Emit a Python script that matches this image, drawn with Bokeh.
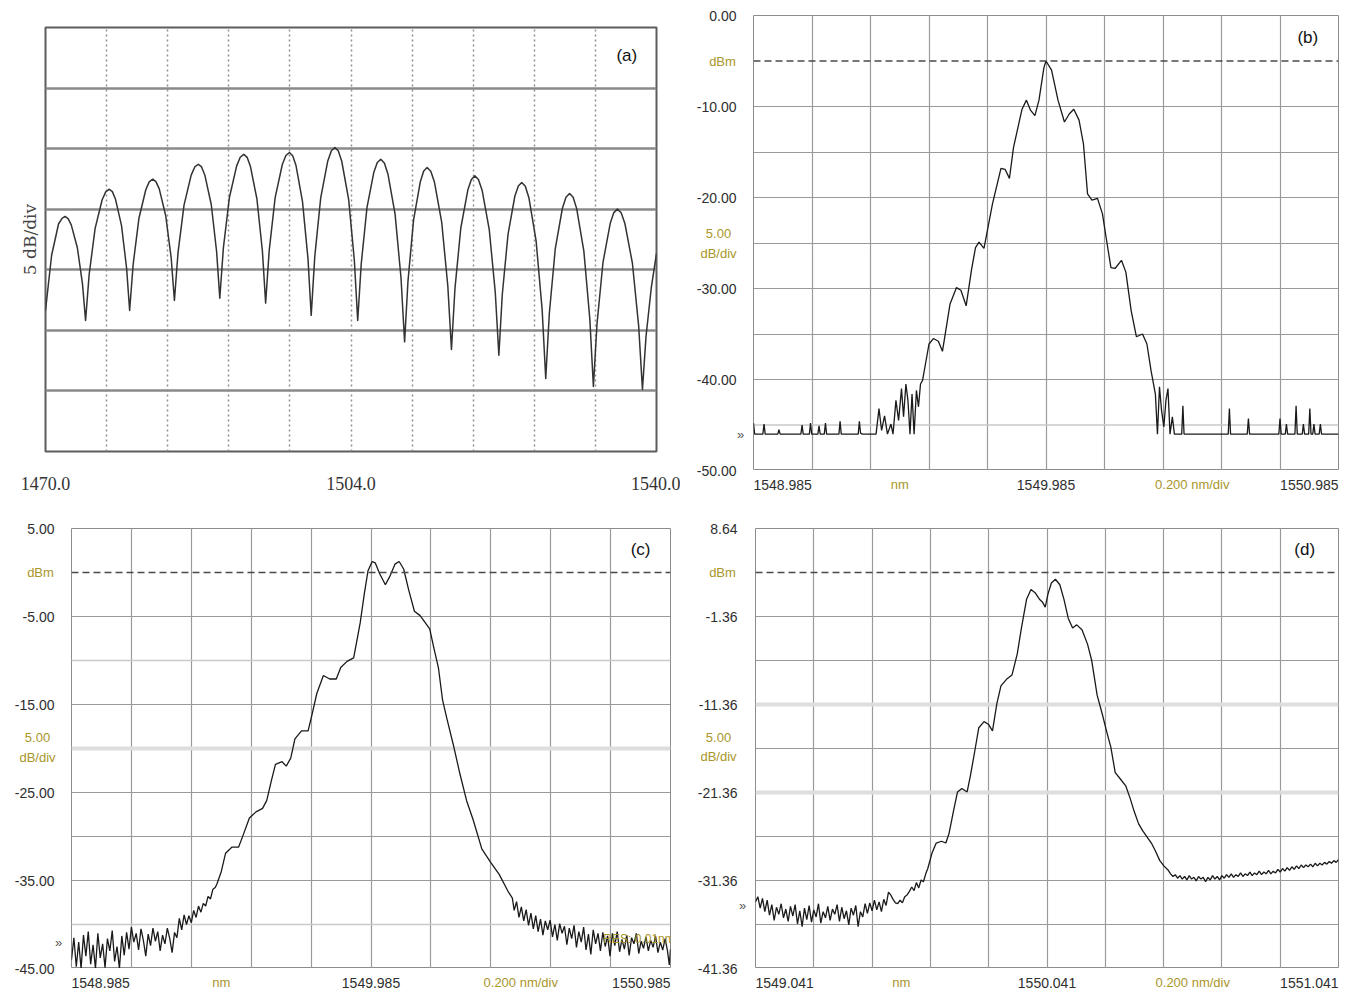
import numpy as np
from bokeh.plotting import figure
from bokeh.models import Range1d, FixedTicker, Span, Label
from bokeh.layouts import column, row
from bokeh.embed import file_html
from bokeh.resources import INLINE

SANS = "Liberation Sans"
SERIF = "Liberation Serif"
OLIVE = "#a8962a"
GRID = "#9a9a9a"
INK = "#1a1a1a"

# ======================= DATA =======================
# ---- (a) broadband comb spectrum, 5 dB/div, relative level ----
a_xtick_values = [1470.0, 1505.0, 1540.0]
a_xtick_labels = ["1470.0", "1504.0", "1540.0"]
a_vgrid = [1477, 1484, 1491, 1498, 1505, 1512, 1519, 1526, 1533]
a_hgrid = [5, 10, 15, 20, 25, 30]
trace_a = [
    (1470.00, 11.64), (1470.70, 16.20), (1471.50, 18.80), (1471.90, 19.25), (1472.24, 19.40),
    (1472.59, 19.23), (1472.95, 18.71), (1473.65, 16.82), (1474.24, 13.82), (1474.59, 10.81),
    (1475.00, 14.60), (1475.68, 18.40), (1476.49, 20.78), (1476.90, 21.43), (1477.31, 21.65),
    (1477.66, 21.45), (1478.01, 20.85), (1478.71, 18.65), (1479.29, 15.14), (1479.64, 11.64),
    (1480.04, 15.43), (1480.70, 19.23), (1481.49, 21.61), (1481.88, 22.26), (1482.28, 22.48),
    (1482.65, 22.28), (1483.03, 21.68), (1483.77, 19.48), (1484.40, 15.97), (1484.77, 12.47),
    (1485.18, 16.40), (1485.87, 20.34), (1486.69, 22.81), (1487.10, 23.49), (1487.51, 23.71),
    (1487.88, 23.49), (1488.25, 22.83), (1488.99, 20.39), (1489.60, 16.53), (1489.97, 12.66),
    (1490.38, 16.81), (1491.07, 20.97), (1491.90, 23.58), (1492.31, 24.29), (1492.72, 24.53),
    (1493.10, 24.28), (1493.47, 23.55), (1494.22, 20.85), (1494.85, 16.55), (1495.22, 12.25),
    (1495.63, 16.60), (1496.31, 20.95), (1497.13, 23.69), (1497.54, 24.43), (1497.95, 24.68),
    (1498.32, 24.41), (1498.70, 23.60), (1499.44, 20.65), (1500.07, 15.94), (1500.44, 11.24),
    (1500.85, 16.09), (1501.53, 20.94), (1502.34, 23.99), (1502.75, 24.82), (1503.16, 25.10),
    (1503.55, 24.81), (1503.94, 23.96), (1504.73, 20.81), (1505.38, 15.81), (1505.77, 10.81),
    (1506.17, 15.47), (1506.83, 20.13), (1507.62, 23.06), (1508.01, 23.85), (1508.41, 24.12),
    (1508.82, 23.82), (1509.23, 22.91), (1510.05, 19.60), (1510.73, 14.32), (1511.14, 9.05),
    (1511.53, 14.09), (1512.17, 19.12), (1512.95, 22.29), (1513.33, 23.15), (1513.72, 23.44),
    (1514.14, 23.14), (1514.56, 22.24), (1515.39, 18.93), (1516.09, 13.68), (1516.51, 8.42),
    (1516.91, 13.44), (1517.58, 18.45), (1518.39, 21.60), (1518.79, 22.46), (1519.19, 22.75),
    (1519.60, 22.45), (1520.02, 21.57), (1520.84, 18.31), (1521.53, 13.13), (1521.94, 7.95),
    (1522.33, 12.94), (1522.99, 17.93), (1523.77, 21.07), (1524.17, 21.92), (1524.56, 22.21),
    (1524.97, 21.89), (1525.39, 20.92), (1526.21, 17.36), (1526.90, 11.69), (1527.31, 6.03),
    (1527.72, 11.37), (1528.40, 16.72), (1529.22, 20.08), (1529.63, 20.99), (1530.04, 21.30),
    (1530.45, 20.98), (1530.86, 20.03), (1531.68, 16.52), (1532.36, 10.95), (1532.77, 5.37),
    (1533.18, 10.49), (1533.87, 15.62), (1534.70, 18.84), (1535.11, 19.72), (1535.52, 20.01),
    (1535.95, 19.71), (1536.38, 18.82), (1537.24, 15.54), (1537.96, 10.33), (1538.39, 5.12),
    (1538.80, 9.50), (1539.40, 13.50), (1540.00, 16.35),
]

# ---- (b) wavelength offset from 1548.985 nm, level dBm ----
b_start = 1548.985
b_xtick_values = [1548.985, 1549.985, 1550.985]
b_xtick_labels = ["1548.985", "1549.985", "1550.985"]
b_yticks = [0, -10, -20, -30, -40, -50]
b_ytick_labels = ["0.00", "-10.00", "-20.00", "-30.00", "-40.00", "-50.00"]
b_ref_level = -5.0
trace_b = [
    (0.000, -44.8), (0.004, -46.0), (0.032, -46.0), (0.036, -44.9), (0.040, -46.0),
    (0.083, -46.0), (0.087, -45.5), (0.091, -46.0), (0.162, -46.0), (0.166, -45.0),
    (0.170, -46.0), (0.191, -46.0), (0.195, -44.8), (0.199, -46.0), (0.220, -46.0),
    (0.224, -45.1), (0.228, -46.0), (0.242, -46.0), (0.246, -44.8), (0.250, -46.0),
    (0.292, -46.0), (0.296, -44.6), (0.300, -46.0), (0.358, -46.0), (0.362, -44.6),
    (0.366, -45.9), (0.372, -46.0), (0.419, -46.0), (0.429, -43.2), (0.438, -45.6),
    (0.448, -44.0), (0.458, -46.0), (0.470, -44.9), (0.477, -46.0), (0.487, -42.3),
    (0.496, -44.5), (0.506, -41.0), (0.513, -44.1), (0.521, -40.5), (0.528, -42.3),
    (0.535, -46.0), (0.542, -41.6), (0.549, -46.0), (0.557, -41.2), (0.564, -43.0),
    (0.571, -40.5), (0.578, -40.1), (0.600, -36.1), (0.615, -35.5), (0.632, -35.8),
    (0.646, -36.9), (0.672, -31.7), (0.694, -29.9), (0.709, -30.2), (0.727, -31.9),
    (0.745, -28.0), (0.759, -25.5), (0.771, -24.9), (0.788, -25.6), (0.817, -20.7),
    (0.846, -16.8), (0.860, -16.9), (0.875, -17.9), (0.889, -14.5), (0.918, -10.3),
    (0.933, -9.3), (0.947, -10.4), (0.962, -11.0), (0.976, -9.3), (0.993, -5.7),
    (1.000, -5.0), (1.019, -6.0), (1.041, -9.3), (1.063, -11.7), (1.080, -10.8),
    (1.095, -10.3), (1.113, -11.5), (1.128, -14.1), (1.142, -19.6), (1.157, -20.3),
    (1.176, -20.1), (1.193, -21.8), (1.207, -24.7), (1.222, -27.7), (1.236, -27.8),
    (1.258, -26.9), (1.273, -28.2), (1.291, -32.4), (1.309, -35.3), (1.330, -35.0),
    (1.345, -36.1), (1.359, -39.0), (1.374, -41.6), (1.381, -46.0), (1.388, -40.8),
    (1.395, -43.4), (1.403, -45.2), (1.410, -42.3), (1.417, -41.0), (1.424, -46.0),
    (1.432, -44.1), (1.439, -46.0), (1.464, -46.0), (1.468, -42.9), (1.472, -46.0),
    (1.623, -46.0), (1.627, -43.2), (1.631, -46.0), (1.688, -46.0), (1.692, -44.3),
    (1.696, -46.0), (1.796, -46.0), (1.800, -44.3), (1.804, -46.0), (1.818, -46.0),
    (1.822, -44.9), (1.826, -46.0), (1.851, -46.0), (1.855, -42.9), (1.859, -46.0),
    (1.876, -46.0), (1.880, -44.9), (1.884, -46.0), (1.898, -46.0), (1.902, -43.2),
    (1.906, -46.0), (1.912, -46.0), (1.916, -44.9), (1.920, -46.0), (1.934, -46.0),
    (1.938, -44.9), (1.942, -46.0), (2.000, -46.0),
]

# ---- (c) wavelength offset from 1548.985 nm, level dBm ----
c_start = 1548.985
c_xtick_values = [1548.985, 1549.985, 1550.985]
c_xtick_labels = ["1548.985", "1549.985", "1550.985"]
c_yticks = [5, -5, -15, -25, -35, -45]
c_ytick_labels = ["5.00", "-5.00", "-15.00", "-25.00", "-35.00", "-45.00"]
c_ref_level = 0.0
trace_c = [
    (0.000, -44.0), (0.008, -41.5), (0.016, -44.8), (0.024, -42.0), (0.032, -45.0),
    (0.040, -41.2), (0.048, -43.6), (0.056, -40.8), (0.064, -44.5), (0.072, -42.3),
    (0.080, -45.0), (0.088, -41.0), (0.096, -43.8), (0.104, -42.2), (0.112, -44.9),
    (0.120, -41.6), (0.128, -43.0), (0.136, -40.7), (0.144, -44.2), (0.152, -42.5),
    (0.160, -45.0), (0.168, -41.3), (0.176, -43.5), (0.184, -40.9), (0.192, -42.8),
    (0.200, -40.3), (0.208, -42.0), (0.216, -41.0), (0.224, -42.9), (0.232, -40.5),
    (0.240, -41.8), (0.248, -43.6), (0.256, -41.1), (0.264, -42.4), (0.272, -40.4),
    (0.280, -41.9), (0.288, -40.8), (0.296, -43.0), (0.304, -41.2), (0.312, -42.2),
    (0.320, -40.4), (0.328, -41.6), (0.336, -43.2), (0.344, -40.9), (0.352, -41.5),
    (0.360, -39.3), (0.368, -40.6), (0.376, -38.9), (0.384, -40.0), (0.392, -39.0),
    (0.400, -39.8), (0.408, -38.4), (0.416, -39.2), (0.424, -37.9), (0.432, -38.6),
    (0.440, -37.6), (0.448, -37.9), (0.456, -36.8), (0.464, -37.1), (0.472, -36.0),
    (0.480, -35.8), (0.4855, -35.4), (0.500, -34.0), (0.5145, -31.9), (0.536, -31.2),
    (0.558, -31.2), (0.5725, -29.9), (0.594, -27.9), (0.616, -27.2), (0.638, -26.8),
    (0.652, -25.9), (0.667, -23.7), (0.681, -21.8), (0.703, -21.5), (0.717, -22.0),
    (0.732, -21.1), (0.746, -18.9), (0.768, -18.0), (0.790, -18.0), (0.804, -16.0),
    (0.819, -13.75), (0.841, -11.7), (0.862, -12.1), (0.884, -12.1), (0.899, -10.8),
    (0.920, -10.1), (0.942, -9.7), (0.952, -7.9), (0.964, -5.7), (0.978, -2.35),
    (0.990, 0.2), (1.004, 1.25), (1.014, 1.1), (1.029, -0.15), (1.048, -1.4),
    (1.062, -0.5), (1.080, 0.95), (1.094, 1.25), (1.109, 0.4), (1.126, -2.0),
    (1.145, -4.4), (1.164, -4.9), (1.181, -5.7), (1.196, -6.4), (1.210, -8.6),
    (1.225, -10.8), (1.239, -14.5), (1.254, -16.7), (1.275, -19.6), (1.297, -22.9),
    (1.319, -25.9), (1.341, -28.1), (1.370, -31.4), (1.399, -32.9), (1.428, -34.3),
    (1.457, -36.2), (1.472, -37.0), (1.478, -38.4), (1.486, -37.4), (1.494, -39.2),
    (1.502, -38.0), (1.510, -39.6), (1.518, -38.3), (1.526, -40.1), (1.534, -38.7),
    (1.542, -40.5), (1.550, -39.0), (1.558, -40.8), (1.566, -39.4), (1.574, -41.2),
    (1.582, -39.6), (1.590, -40.6), (1.598, -39.5), (1.606, -41.4), (1.614, -40.0),
    (1.622, -41.8), (1.630, -39.9), (1.638, -41.0), (1.646, -40.2), (1.654, -42.3),
    (1.662, -40.4), (1.670, -41.6), (1.678, -40.1), (1.686, -42.6), (1.694, -40.8),
    (1.702, -42.0), (1.710, -40.3), (1.718, -42.9), (1.726, -41.1), (1.734, -43.4),
    (1.742, -40.6), (1.750, -42.2), (1.758, -41.0), (1.766, -43.0), (1.774, -40.9),
    (1.782, -42.5), (1.790, -41.3), (1.798, -43.6), (1.806, -41.0), (1.814, -42.4),
    (1.822, -40.8), (1.830, -43.1), (1.838, -41.7), (1.846, -42.8), (1.854, -41.2),
    (1.862, -43.5), (1.870, -41.5), (1.878, -42.2), (1.886, -41.0), (1.894, -43.3),
    (1.902, -41.9), (1.910, -42.7), (1.918, -41.4), (1.926, -43.0), (1.934, -41.8),
    (1.942, -42.6), (1.950, -41.3), (1.958, -43.2), (1.966, -42.0), (1.974, -42.9),
    (1.982, -41.6), (1.990, -43.0), (1.996, -44.6), (2.000, -42.8),
]

# ---- (d) wavelength offset from 1549.041 nm, level dBm ----
d_start = 1549.041
d_xtick_values = [1549.041, 1550.041, 1551.041]
d_xtick_labels = ["1549.041", "1550.041", "1551.041"]
d_yticks = [8.64, -1.36, -11.36, -21.36, -31.36, -41.36]
d_ytick_labels = ["8.64", "-1.36", "-11.36", "-21.36", "-31.36", "-41.36"]
d_ref_level = 3.64
trace_d = [
    (0.000, -33.8), (0.008, -33.2), (0.016, -34.5), (0.024, -33.4), (0.032, -34.9),
    (0.040, -33.6), (0.048, -35.3), (0.056, -34.1), (0.064, -35.9), (0.072, -34.4),
    (0.080, -35.2), (0.088, -34.0), (0.096, -35.6), (0.104, -34.6), (0.112, -36.0),
    (0.120, -34.3), (0.128, -35.4), (0.136, -34.1), (0.144, -36.3), (0.152, -34.8),
    (0.160, -36.6), (0.168, -34.5), (0.176, -35.8), (0.184, -34.2), (0.192, -36.1),
    (0.200, -34.7), (0.208, -35.5), (0.216, -34.0), (0.224, -36.2), (0.232, -34.9),
    (0.240, -35.6), (0.248, -34.3), (0.256, -35.9), (0.264, -34.6), (0.272, -35.2),
    (0.280, -34.1), (0.288, -36.0), (0.296, -34.4), (0.304, -35.7), (0.312, -34.8),
    (0.320, -36.4), (0.328, -34.5), (0.336, -35.3), (0.344, -34.2), (0.352, -36.6),
    (0.360, -34.9), (0.368, -35.5), (0.376, -34.0), (0.384, -35.1), (0.392, -33.9),
    (0.400, -34.8), (0.408, -33.6), (0.416, -34.7), (0.424, -33.8), (0.432, -34.9),
    (0.440, -33.5), (0.448, -34.2), (0.456, -32.7), (0.464, -33.0), (0.472, -33.5),
    (0.480, -33.9), (0.488, -34.0), (0.496, -33.6), (0.504, -33.9), (0.512, -33.2),
    (0.520, -33.0), (0.528, -32.6), (0.536, -32.1), (0.544, -32.5), (0.552, -31.6),
    (0.560, -32.2), (0.568, -31.3), (0.576, -31.5), (0.584, -30.6), (0.591, -30.0),
    (0.606, -28.2), (0.620, -27.1), (0.638, -26.9), (0.653, -27.1), (0.664, -26.0),
    (0.679, -23.5), (0.693, -21.3), (0.708, -20.9), (0.726, -21.3), (0.737, -19.5),
    (0.752, -16.7), (0.766, -14.0), (0.784, -13.3), (0.799, -13.6), (0.813, -14.35),
    (0.828, -11.25), (0.842, -9.24), (0.861, -8.5), (0.880, -8.0), (0.898, -5.6),
    (0.912, -2.7), (0.930, 0.61), (0.945, 1.71), (0.959, 1.34), (0.974, 0.61),
    (0.985, 0.25), (0.994, -0.3), (1.003, 1.16), (1.015, 2.44), (1.029, 2.87),
    (1.044, 2.25), (1.058, 0.61), (1.073, -1.58), (1.088, -2.67), (1.102, -2.31),
    (1.120, -2.86), (1.139, -4.5), (1.153, -6.3), (1.172, -10.3), (1.190, -12.5),
    (1.204, -14.35), (1.219, -16.2), (1.234, -19.1), (1.251, -19.8), (1.270, -20.6),
    (1.285, -22.0), (1.299, -23.5), (1.314, -24.9), (1.328, -25.7), (1.343, -26.4),
    (1.358, -27.1), (1.372, -28.0), (1.387, -29.1), (1.401, -29.7), (1.416, -30.2),
    (1.424, -30.6), (1.432, -30.9), (1.440, -30.7), (1.448, -31.1), (1.456, -30.8),
    (1.464, -31.2), (1.472, -30.9), (1.480, -31.3), (1.488, -30.8), (1.496, -31.2),
    (1.504, -31.0), (1.512, -31.4), (1.520, -30.9), (1.528, -31.2), (1.536, -31.0),
    (1.544, -31.5), (1.552, -31.0), (1.560, -31.3), (1.568, -30.8), (1.576, -31.2),
    (1.584, -30.9), (1.592, -31.3), (1.600, -30.8), (1.608, -31.1), (1.616, -30.7),
    (1.624, -31.0), (1.632, -30.6), (1.640, -31.0), (1.648, -30.7), (1.656, -30.9),
    (1.664, -30.5), (1.672, -30.9), (1.680, -30.6), (1.688, -30.8), (1.696, -30.4),
    (1.704, -30.8), (1.712, -30.5), (1.720, -30.7), (1.728, -30.3), (1.736, -30.7),
    (1.744, -30.4), (1.752, -30.6), (1.760, -30.2), (1.768, -30.6), (1.776, -30.3),
    (1.784, -30.5), (1.792, -30.1), (1.800, -30.4), (1.808, -30.0), (1.816, -30.3),
    (1.824, -29.9), (1.832, -30.2), (1.840, -29.8), (1.848, -30.1), (1.856, -29.7),
    (1.864, -30.0), (1.872, -29.6), (1.880, -29.9), (1.888, -29.6), (1.896, -29.8),
    (1.904, -29.5), (1.912, -29.8), (1.920, -29.4), (1.928, -29.7), (1.936, -29.4),
    (1.944, -29.6), (1.952, -29.3), (1.960, -29.5), (1.968, -29.2), (1.976, -29.4),
    (1.984, -29.1), (1.992, -29.3), (2.000, -29.0),
]


# ======================= HELPERS =======================
def txt(p, x, y, text, size="14px", color="#2e2e2e", align="center",
        baseline="middle", font=SANS):
    p.add_layout(Label(x=x, y=y, text=text, text_font=font, text_font_size=size,
                       text_color=color, text_align=align, text_baseline=baseline))


def bare_fig(width, height, xr, yr, left=0, right=0, top=0, bottom=0):
    p = figure(width=width, height=height, x_range=xr, y_range=yr,
               output_backend="svg", toolbar_location=None,
               min_border_left=left, min_border_right=right,
               min_border_top=top, min_border_bottom=bottom)
    p.background_fill_color = "white"
    p.border_fill_color = "white"
    return p


def osa_panel(strip_w, main_w, right_b, row_h, top_b, frame_h, start, trace,
              xtick_values, xtick_labels, yticks, ytick_labels, ref_level,
              light_levels, band_levels, tag, tag_xy, unit_y, floor_y,
              label_right, dbm_x, unit_x, floor_x):
    ytop, ybot = yticks[0], yticks[-1]
    main_h = top_b + frame_h
    bottom_h = row_h - main_h

    # ---- main trace frame ----
    xr = Range1d(start, start + 2.0)
    p = bare_fig(main_w, main_h, xr, Range1d(ybot, ytop), right=right_b, top=top_b)
    p.outline_line_color = "#8c8c8c"
    p.outline_line_width = 1
    p.xaxis.visible = False
    p.yaxis.visible = False
    vgrid = [start + 0.2 * k for k in range(1, 10)]
    p.xgrid.ticker = FixedTicker(ticks=vgrid)
    p.xgrid.grid_line_color = GRID
    p.xgrid.grid_line_width = 1.2
    grid_levels = [ytop - 5 * k for k in range(1, 10)]
    dark = [g for g in grid_levels
            if all(abs(g - v) > 1e-6 for v in light_levels + band_levels + [ref_level])]
    p.ygrid.ticker = FixedTicker(ticks=dark)
    p.ygrid.grid_line_color = GRID
    p.ygrid.grid_line_width = 1.2
    for v in light_levels:
        p.add_layout(Span(location=v, dimension="width", line_color="#c9c9c9",
                          line_width=1.5, level="underlay"))
    for v in band_levels:
        p.add_layout(Span(location=v, dimension="width", line_color="#dedede",
                          line_width=4, level="underlay"))
    p.add_layout(Span(location=ref_level, dimension="width", line_color="#4a4a4a",
                      line_dash="7 4", line_width=1.6))
    pts = np.array(trace)
    p.line(start + pts[:, 0], pts[:, 1], line_color=INK, line_width=1.3)
    txt(p, tag_xy[0], tag_xy[1], tag, size="17px", color="#111111")

    # ---- strip under the frame: wavelength texts (same x scale) ----
    pb_ = bare_fig(main_w, bottom_h, xr, Range1d(0, bottom_h), right=right_b)
    pb_.axis.visible = False
    pb_.grid.visible = False
    pb_.outline_line_color = None
    ty = bottom_h - 14
    for xv, lab, al in zip(xtick_values, xtick_labels, ["left", "center", "right"]):
        txt(pb_, xv, ty, lab, align=al)
    txt(pb_, start + 0.5, ty, "nm", color=OLIVE, size="13px")
    txt(pb_, start + 1.5, ty, "0.200 nm/div", color=OLIVE, size="13px")

    # ---- strip left of the frame: level texts (same y mapping) ----
    s = frame_h / (ytop - ybot)
    yr_left = Range1d(ybot - (row_h - top_b - frame_h) / s, ytop + top_b / s)
    pl = bare_fig(strip_w, row_h, Range1d(0, strip_w), yr_left)
    pl.axis.visible = False
    pl.grid.visible = False
    pl.outline_line_color = None
    for yv, lab in zip(yticks, ytick_labels):
        txt(pl, label_right, yv, lab, align="right")
    txt(pl, dbm_x, ref_level, "dBm", color=OLIVE, size="13px")
    txt(pl, unit_x, unit_y, "5.00", color=OLIVE, size="13px")
    txt(pl, unit_x, unit_y - 2.2, "dB/div", color=OLIVE, size="13px")
    txt(pl, floor_x, floor_y, "»", color="#555555", size="13px")

    return row(pl, column(p, pb_))


# ======================= PANEL (a) =======================
pa = bare_fig(680, 505, Range1d(1470.0, 1540.0), Range1d(0.0, 35.0),
              left=45, right=24, top=27, bottom=54)
pa.outline_line_color = "#5c5c5c"
pa.outline_line_width = 2
xa = pa.xaxis[0]
xa.ticker = FixedTicker(ticks=a_xtick_values)
xa.major_label_overrides = {v: s for v, s in zip(a_xtick_values, a_xtick_labels)}
xa.axis_line_color = None
xa.major_tick_line_color = None
xa.minor_tick_line_color = None
xa.major_tick_out = 0
xa.major_tick_in = 0
xa.major_label_standoff = 25
xa.major_label_text_font = SERIF
xa.major_label_text_font_size = "18px"
xa.major_label_text_color = "#333333"
ya = pa.yaxis[0]
ya.ticker = FixedTicker(ticks=[])
ya.axis_line_color = None
ya.major_tick_line_color = None
ya.minor_tick_line_color = None
ya.major_tick_out = 0
ya.major_tick_in = 0
ya.major_label_standoff = 0
ya.major_label_text_font_size = "0px"
ya.axis_label = "5 dB/div"
ya.axis_label_standoff = 6
ya.axis_label_text_font = "DejaVu Serif"
ya.axis_label_text_font_style = "normal"
ya.axis_label_text_font_size = "17px"
ya.axis_label_text_color = "#444444"
pa.xgrid.ticker = FixedTicker(ticks=a_vgrid)
pa.xgrid.grid_line_color = "#8f8f8f"
pa.xgrid.grid_line_dash = "2 3"
pa.xgrid.grid_line_width = 1.5
pa.ygrid.ticker = FixedTicker(ticks=a_hgrid)
pa.ygrid.grid_line_color = "#8a8a8a"
pa.ygrid.grid_line_width = 2.5
pa_pts = np.array(trace_a)
pa.line(pa_pts[:, 0], pa_pts[:, 1], line_color="#333333", line_width=1.5,
        line_join="round")
txt(pa, 1536.6, 32.7, "(a)", size="17px", color="#111111")

# ======================= PANELS (b)(c)(d) =======================
panel_b = osa_panel(73, 587, 2, 505, 15, 455, b_start, trace_b, b_xtick_values,
                    b_xtick_labels, b_yticks, b_ytick_labels, b_ref_level, [-45], [],
                    "(b)", (1550.880, -2.4), -24.0, -46.0, 56, 42, 38, 60)
panel_c = osa_panel(71, 609, 10, 484, 23, 440, c_start, trace_c, c_xtick_values,
                    c_xtick_labels, c_yticks, c_ytick_labels, c_ref_level, [-10, -40], [-20],
                    "(c)", (1550.885, 2.57), -18.8, -42.0, 54, 40, 37, 58)
panel_d = osa_panel(75, 585, 2, 484, 23, 440, d_start, trace_d, d_xtick_values,
                    d_xtick_labels, d_yticks, d_ytick_labels, d_ref_level, [], [-11.36, -21.36],
                    "(d)", (1550.925, 6.2), -15.1, -34.2, 57, 42, 38, 62)
# instrument resolution note drawn inside (c)
pc_main = panel_c.children[1].children[0]
txt(pc_main, c_start + 1.895, -41.6, "RES: 0.01nm", color=OLIVE, size="12px")

layout = column(row(pa, panel_b), row(panel_c, panel_d))
open("out.html", "w").write(file_html(layout, INLINE))
